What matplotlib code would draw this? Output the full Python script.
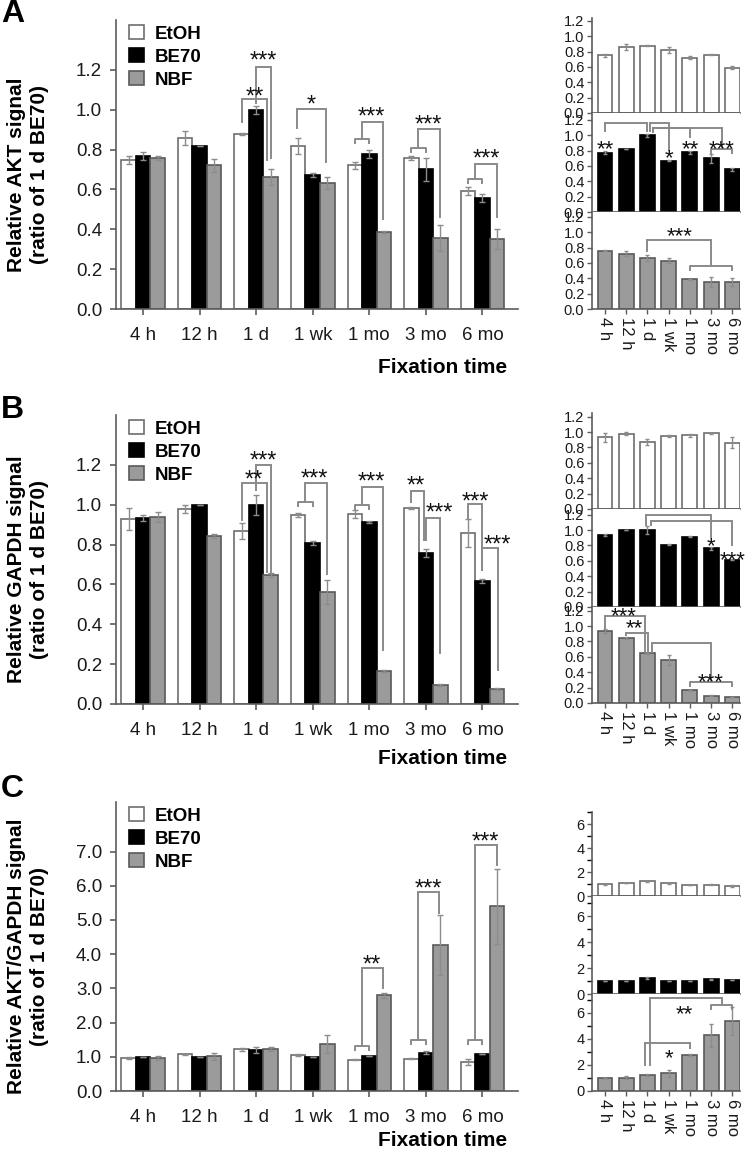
import matplotlib.pyplot as plt
import numpy as np

plt.rcParams['font.family'] = ['Liberation Sans', 'DejaVu Sans']

# ---- data ----
cats = ["4 h", "12 h", "1 d", "1 wk", "1 mo", "3 mo", "6 mo"]
series = ["EtOH", "BE70", "NBF"]

akt_etoh = [0.75, 0.86, 0.88, 0.82, 0.72, 0.76, 0.59]
akt_etoh_err = [0.02, 0.035, 0.005, 0.04, 0.02, 0.01, 0.02]
akt_be70 = [0.77, 0.82, 1.00, 0.67, 0.78, 0.70, 0.555]
akt_be70_err = [0.02, 0.0, 0.02, 0.01, 0.02, 0.06, 0.02]
akt_nbf = [0.76, 0.72, 0.66, 0.63, 0.385, 0.355, 0.35]
akt_nbf_err = [0.01, 0.035, 0.04, 0.03, 0.005, 0.065, 0.05]

gapdh_etoh = [0.93, 0.98, 0.87, 0.95, 0.955, 0.985, 0.86]
gapdh_etoh_err = [0.055, 0.02, 0.04, 0.01, 0.02, 0.005, 0.07]
gapdh_be70 = [0.935, 1.0, 1.0, 0.81, 0.915, 0.76, 0.615]
gapdh_be70_err = [0.015, 0.0, 0.05, 0.01, 0.005, 0.02, 0.01]
gapdh_nbf = [0.94, 0.845, 0.645, 0.56, 0.165, 0.095, 0.075]
gapdh_nbf_err = [0.025, 0.01, 0.01, 0.06, 0.005, 0.003, 0.003]

ratio_etoh = [0.97, 1.07, 1.22, 1.05, 0.92, 0.95, 0.85]
ratio_etoh_err = [0.02, 0.02, 0.04, 0.03, 0.02, 0.02, 0.1]
ratio_be70 = [1.0, 1.0, 1.2, 1.0, 1.03, 1.12, 1.08]
ratio_be70_err = [0.0, 0.0, 0.08, 0.0, 0.0, 0.05, 0.0]
ratio_nbf = [0.97, 1.02, 1.22, 1.37, 2.8, 4.28, 5.4]
ratio_nbf_err = [0.05, 0.1, 0.06, 0.27, 0.08, 0.88, 1.1]

# significance marks: (x1, x2, y, leg1 end, leg2 end, label, label x, label y)
sig_a = [(1.74, 2.19, 1.055, 0.94, 0.75, "**", 1.97, 1.10),
         (2.0, 2.27, 1.215, 1.035, 0.76, "***", 2.12, 1.28),
         (2.73, 3.23, 1.005, 0.91, 0.74, "*", 2.97, 1.06),
         (3.87, 4.25, 0.94, 0.855, 0.45, "***", 4.04, 1.00),
         (4.87, 5.25, 0.905, 0.81, 0.46, "***", 5.05, 0.96),
         (5.87, 6.26, 0.73, 0.65, 0.46, "***", 6.07, 0.79)]
brace_a = [(3.74, 4.0, 0.855), (4.74, 5.0, 0.81), (5.74, 6.0, 0.65)]

sig_b = [(1.74, 2.19, 1.11, 0.925, 0.66, "**", 1.96, 1.16),
         (2.0, 2.27, 1.20, 1.075, 0.66, "***", 2.12, 1.255),
         (2.87, 3.25, 1.11, 1.015, 0.65, "***", 3.03, 1.165),
         (3.87, 4.24, 1.09, 1.0, 0.27, "***", 4.04, 1.15),
         (4.74, 4.97, 1.07, 1.015, 0.825, "**", 4.82, 1.13),
         (5.0, 5.25, 0.935, 0.825, 0.255, "***", 5.23, 0.995),
         (5.74, 6.0, 1.005, 0.935, 0.67, "***", 5.88, 1.05),
         (6.0, 6.27, 0.785, 0.67, 0.17, "***", 6.27, 0.835)]
brace_b = [(2.74, 3.0, 1.015), (3.74, 4.0, 1.0)]

sig_c = [(3.87, 4.24, 3.6, 1.32, 3.0, "**", 4.05, 3.9),
         (4.87, 5.24, 5.82, 1.5, 5.2, "***", 5.05, 6.1),
         (5.87, 6.26, 7.2, 1.5, 6.6, "***", 6.05, 7.49)]
brace_c = [(3.74, 4.0, 1.32), (4.74, 5.0, 1.5), (5.74, 6.0, 1.5)]

# small panels (per series subplot)
sig_a_small = {1: [(0.0, 2.0, 1.16, 1.05, 1.05, "**", 0.0, 0.90),
                   (2.12, 3.0, 1.16, 1.05, 0.81, "*", 3.0, 0.79),
                   (2.27, 4.0, 1.10, 1.04, 0.98, "**", 4.0, 0.90),
                   (2.27, 5.5, 1.10, 1.04, 0.82, "***", 5.5, 0.90)],
               2: [(2.0, 5.0, 0.90, 0.76, 0.56, "***", 3.5, 1.04)]}
brace_a_small = {1: [(5.0, 6.0, 0.82)], 2: [(4.0, 6.0, 0.56)]}

sig_b_small = {1: [(1.95, 5.0, 1.20, 1.06, 0.91, "*", 5.0, 0.87),
                   (2.15, 6.0, 1.12, 1.06, 0.81, "***", 6.0, 0.70)],
               2: [(0.0, 1.9, 1.13, 0.98, 0.66, "***", 0.9, 1.21),
                   (1.0, 2.05, 0.91, 0.88, 0.66, "**", 1.4, 1.06),
                   (2.2, 5.0, 0.78, 0.66, 0.27, "***", 5.0, 0.36)]}
brace_b_small = {2: [(4.0, 6.0, 0.27)]}

sig_c_small = {2: [(2.1, 5.5, 7.15, 2.0, 6.6, "**", 3.75, 6.45),
                   (1.9, 4.0, 3.7, 2.0, 3.3, "*", 3.0, 3.0)]}
brace_c_small = {2: [(5.0, 6.0, 6.6)]}

# ---- styles ----
W, H = 749, 1157
FACE = ["white", "black", "#9b9b9b"]
EDGE = ["#6e6e6e", "black", "#5a5a5a"]
AXIS = "#5c5c5c"
BRK = "#8a8a8a"
ERR = "#8c8c8c"

fig = plt.figure(figsize=(W / 100, H / 100), dpi=100)


def px_axes(x0, y0, x1, y1):
    return fig.add_axes([x0 / W, 1 - y1 / H, (x1 - x0) / W, (y1 - y0) / H])


def clean(ax):
    for s in ["top", "right"]:
        ax.spines[s].set_visible(False)
    for s in ["left", "bottom"]:
        ax.spines[s].set_color(AXIS)
        ax.spines[s].set_linewidth(1.2)
    ax.tick_params(color=AXIS, labelcolor="#1a1a1a", direction="out")


def marks(ax, sigs, braces, depth, size=17):
    for x1, x2, y, e1, e2, lab, lx, ly in sigs:
        ax.plot([x1, x1, x2, x2], [e1, y, y, e2], color=BRK, lw=1.4,
                clip_on=False, solid_joinstyle="miter")
        ax.annotate(lab, (lx, ly), xytext=(0, -0.32 * size), textcoords="offset points",
                    ha="center", va="center", fontsize=size, color="#111111")
    for x1, x2, y in braces:
        ax.plot([x1, x1, x2, x2], [y - depth, y, y, y - depth], color=BRK,
                lw=1.4, clip_on=False)


def main_panel(box, vals, errs, ylim, yticks, fmt, sigs, braces, ylabel, xl_off):
    ax = px_axes(*box)
    clean(ax)
    x = np.arange(len(cats))
    w = 0.257
    handles = []
    for i, (v, e) in enumerate(zip(vals, errs)):
        b = ax.bar(x + (i - 1) * w, v, w, yerr=e, color=FACE[i], edgecolor=EDGE[i],
                   linewidth=1.2, label=series[i],
                   error_kw=dict(ecolor=ERR, elinewidth=1.0, capsize=2, capthick=1.0))
        handles.append(b)
    ax.set_xlim(-0.48, 6.63)
    ax.set_ylim(*ylim)
    ax.set_xticks(x)
    ax.set_xticklabels(cats, fontsize=13.5)
    ax.set_yticks(yticks)
    ax.set_yticklabels([fmt % t for t in yticks], fontsize=13.5)
    ax.tick_params(axis="both", length=4, width=1.2, pad=6)
    ax.tick_params(axis="x", pad=9)
    depth = (ylim[1] - ylim[0]) * 4 / (box[3] - box[1])
    marks(ax, sigs, braces, depth)
    ax.legend(handles=handles, loc="upper left",
              bbox_to_anchor=(129 / W, 1 - (box[1] + 5) / H),
              bbox_transform=fig.transFigure, frameon=False, borderpad=0,
              borderaxespad=0, handlelength=0.8, handleheight=0.8,
              handletextpad=0.6, labelspacing=0.28,
              prop=dict(weight="bold", size=13.5))
    cy = (box[1] + box[3]) / 2 + 10
    fig.text(28 / W, 1 - cy / H, ylabel, rotation=90, ha="center", va="center",
             fontsize=15, fontweight="bold", linespacing=1.3)
    fig.text(443 / W, 1 - (box[3] + xl_off) / H, "Fixation time", ha="center",
             va="center", fontsize=15, fontweight="bold")
    return ax


def small_panel(zeros, top, ppu, vals, errs, yticks, fmt, minor, sigs, braces):
    edges = [top] + zeros[:-1]
    for i in range(3):
        y0, y1 = edges[i], zeros[i]
        ax = px_axes(592, y0, 740, y1)
        clean(ax)
        x = np.arange(len(cats))
        ax.bar(x, vals[i], 0.7, yerr=errs[i], color=FACE[i], edgecolor=EDGE[i],
               linewidth=1.2,
               error_kw=dict(ecolor=ERR, elinewidth=1.0, capsize=1.5, capthick=1.0))
        ax.set_xlim(-0.61, 6.36)
        ax.set_ylim(0, (y1 - y0) / ppu)
        ax.set_yticks(yticks)
        ax.set_yticklabels([fmt % t for t in yticks], fontsize=10.5)
        if minor:
            ax.set_yticks(minor, minor=True)
        ax.tick_params(axis="y", which="both", length=3.5, width=1.0, pad=2)
        ax.set_xticks(x)
        if i == 2:
            ax.set_xticklabels(cats, rotation=270, fontsize=12, va="top")
            ax.tick_params(axis="x", length=3.5, width=1.0, pad=2)
        else:
            ax.tick_params(axis="x", length=0, labelbottom=False)
        marks(ax, sigs.get(i, []), braces.get(i, []), 4 / ppu, size=16)


# ---- panel A ----
main_panel((116, 20, 518, 309), [akt_etoh, akt_be70, akt_nbf],
           [akt_etoh_err, akt_be70_err, akt_nbf_err], (0, 1.45),
           np.arange(0, 1.21, 0.2), "%.1f", sig_a, brace_a,
           "Relative AKT signal\n(ratio of 1 d BE70)", 59)
small_panel([113, 212, 309], 18, 76.7, [akt_etoh, akt_be70, akt_nbf],
            [akt_etoh_err, akt_be70_err, akt_nbf_err], np.arange(0, 1.21, 0.2),
            "%.1f", None, sig_a_small, brace_a_small)

# ---- panel B ----
main_panel((116, 415, 518, 704), [gapdh_etoh, gapdh_be70, gapdh_nbf],
           [gapdh_etoh_err, gapdh_be70_err, gapdh_nbf_err], (0, 1.45),
           np.arange(0, 1.21, 0.2), "%.1f", sig_b, brace_b,
           "Relative GAPDH signal\n(ratio of 1 d BE70)", 54)
small_panel([509, 607, 703], 413, 77, [gapdh_etoh, gapdh_be70, gapdh_nbf],
            [gapdh_etoh_err, gapdh_be70_err, gapdh_nbf_err], np.arange(0, 1.21, 0.2),
            "%.1f", None, sig_b_small, brace_b_small)

# ---- panel C ----
main_panel((116, 802, 518, 1091), [ratio_etoh, ratio_be70, ratio_nbf],
           [ratio_etoh_err, ratio_be70_err, ratio_nbf_err], (0, 8.45),
           np.arange(0, 7.1, 1.0), "%.1f", sig_c, brace_c,
           "Relative AKT/GAPDH signal\n(ratio of 1 d BE70)", 50)
small_panel([896, 994, 1091], 812, 13.0, [ratio_etoh, ratio_be70, ratio_nbf],
            [ratio_etoh_err, ratio_be70_err, ratio_nbf_err], [0, 2, 4, 6],
            "%d", [1, 3, 5, 7], sig_c_small, brace_c_small)

for letter, y in [("A", 14), ("B", 410), ("C", 789)]:
    fig.text(1 / W, 1 - y / H, letter, fontsize=23, fontweight="bold",
             ha="left", va="center")

fig.savefig("out.png", dpi=100)
